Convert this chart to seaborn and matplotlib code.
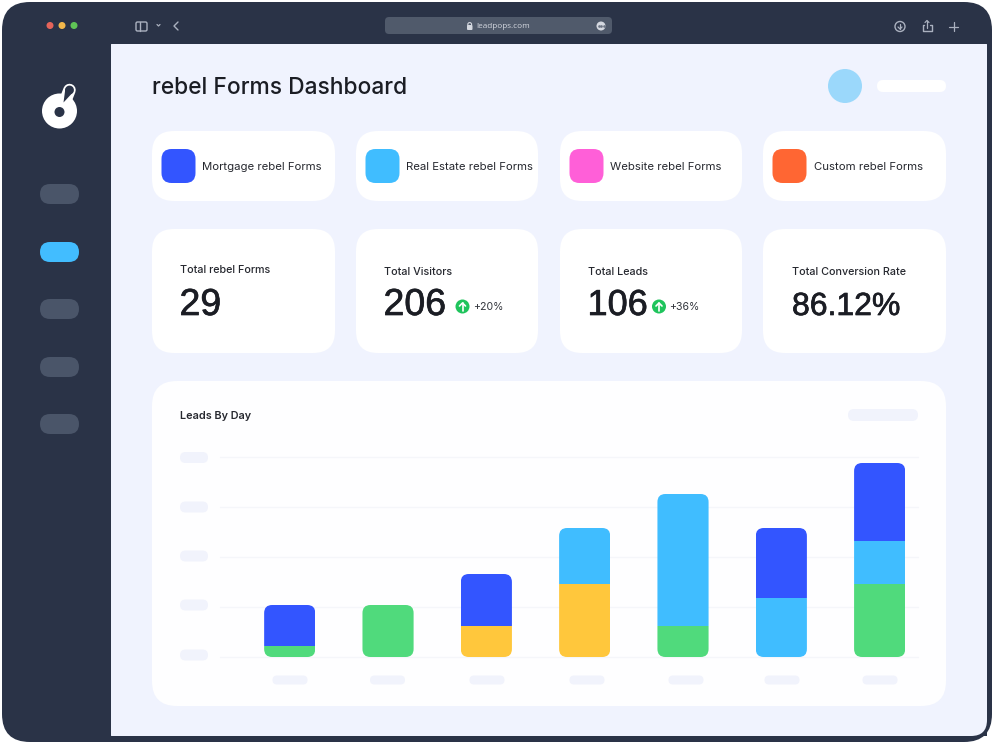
import numpy as np
import matplotlib
matplotlib.use("Agg")
import matplotlib.pyplot as plt
import matplotlib.patheffects as pe
import seaborn as sns
from matplotlib.patches import FancyBboxPatch, Circle

# chart data, in leads (one grid step = 10)
days = ["Day 1", "Day 2", "Day 3", "Day 4", "Day 5", "Day 6", "Day 7"]
green_leads = [2.2, 10.4, 0, 0, 6.2, 0, 14.6]
yellow_leads = [0, 0, 6.2, 14.6, 0, 0, 0]
cyan_leads = [0, 0, 0, 11.2, 26.4, 11.8, 8.6]
blue_leads = [8.2, 0, 10.4, 0, 0, 14.0, 15.6]
y_ticks = [0, 10, 20, 30, 40]

# dashboard text
form_types = ["Mortgage rebel Forms", "Real Estate rebel Forms", "Website rebel Forms", "Custom rebel Forms"]
form_colors = ["#3355ff", "#40bdff", "#ff5fd8", "#ff6633"]
stat_labels = ["Total rebel Forms", "Total Visitors", "Total Leads", "Total Conversion Rate"]
stat_values = ["29", "206", "106", "86.12%"]
stat_changes = [None, "+20%", "+36%", None]

DARK = "#2a3347"
PANEL = "#f0f3fe"
PILL = "#f1f3fc"
SIDE_PILL = "#4a5569"
INK = "#1b1d24"

sns.set_theme(style="white")
plt.rcParams["font.family"] = ["Open Sans", "DejaVu Sans"]

fig = plt.figure(figsize=(9.92, 7.42), dpi=100, facecolor="white")

# background axes in pixel coords for the app window
bg = fig.add_axes([0, 0, 1, 1])
bg.set_xlim(0, 992)
bg.set_ylim(742, 0)
bg.axis("off")


def box(x0, y0, x1, y1, r, color, z=1):
    p = FancyBboxPatch((x0 + r, y0 + r), x1 - x0 - 2 * r, y1 - y0 - 2 * r,
                       boxstyle="round,pad=%f,rounding_size=%f" % (r, r),
                       fc=color, ec="none", zorder=z)
    bg.add_patch(p)
    return p


def label(x, y, s, size, color=INK, weight="normal", family=None, ha="left", va="center"):
    return bg.text(x, y, s, fontsize=size, color=color, fontweight=weight, ha=ha, va=va,
                   family=family if family else plt.rcParams["font.family"], zorder=5)


# window + content panel
box(2, 2, 992, 742, 28, DARK)
box(111, 44, 987, 736, 0.5, PANEL, z=2)
# rounded bottom right corner of the panel
bg.fill_between([971, 987], 720, 736, color=DARK, lw=0, zorder=2.5)
corner = FancyBboxPatch((950, 700), 37, 36, boxstyle="round,pad=0,rounding_size=16", fc=PANEL, ec="none", zorder=3)
bg.add_patch(corner)

# title bar
for x, c in zip([50, 62, 74], ["#e5645a", "#f2b84b", "#5fc456"]):
    bg.add_patch(Circle((x, 25.5), 3.5, fc=c, ec="none", zorder=3))
bg.add_patch(FancyBboxPatch((136, 22), 11, 9, boxstyle="round,pad=0,rounding_size=1.5", fc="none", ec="#aab1bf", lw=1, zorder=3))
bg.plot([140, 140], [22, 31], color="#aab1bf", lw=1, zorder=3)
bg.plot([157, 158.5, 160], [24.5, 26, 24.5], color="#aab1bf", lw=0.9, zorder=3)
bg.plot([178, 174, 178], [22, 26, 30], color="#aab1bf", lw=1, zorder=3)
box(385, 17, 612, 34, 4, "#505a6b", z=3)
box(467, 25, 472.5, 30, 1, "#d4d8e0", z=4)
bg.add_patch(Circle((469.7, 24.5), 1.9, fc="none", ec="#d4d8e0", lw=0.8, zorder=4))
label(476.5, 26, "leadpops.com", 5.9, color="#d4d8e0")
bg.add_patch(Circle((601, 26), 4.5, fc="#d4d8e0", ec="none", zorder=4))
bg.plot([598.5, 601, 603.5], [26, 26, 26], ls="none", marker="o", ms=0.9, color="#6a7382", zorder=5)
# right side icons
bg.add_patch(Circle((900, 26.5), 5, fc="none", ec="#aab1bf", lw=1, zorder=3))
bg.plot([900, 900], [23.5, 29], color="#aab1bf", lw=0.9, zorder=3)
bg.plot([898, 900, 902], [27, 29, 27], color="#aab1bf", lw=0.9, zorder=3)
bg.plot([924, 922.5, 922.5, 931.5, 931.5, 930], [25, 25, 31, 31, 25, 25], color="#aab1bf", lw=1, zorder=3)
bg.plot([927, 927], [20.5, 27.5], color="#aab1bf", lw=0.9, zorder=3)
bg.plot([925, 927, 929], [22.5, 20.5, 22.5], color="#aab1bf", lw=0.9, zorder=3)
bg.plot([949, 958], [26.5, 26.5], color="#aab1bf", lw=0.9, zorder=3)
bg.plot([953.5, 953.5], [22, 31], color="#aab1bf", lw=0.9, zorder=3)

# logo
bg.plot([64, 69.5], [104, 90], color="white", lw=9, solid_capstyle="round", zorder=3)
bg.add_patch(Circle((59.5, 111), 17.5, fc="white", ec="none", zorder=3.1))
bg.add_patch(Circle((69.5, 90), 4.4, fc=DARK, ec="none", zorder=3.2))
bg.fill([65.4, 73.6, 63.5], [88.4, 91.6, 102.5], color=DARK, lw=0, zorder=3.2)
bg.add_patch(Circle((59.5, 112), 5, fc=DARK, ec="none", zorder=3.4))

# sidebar
for i, y in enumerate([184, 242, 299, 357, 414]):
    box(40, y, 79, y + 20, 10, "#42bdff" if i == 1 else SIDE_PILL, z=3)

# header
label(152, 87.5, "rebel Forms Dashboard", 16.4, family=["Inter"], weight="medium")
bg.add_patch(Circle((845, 86), 17, fc="#9bd8fb", ec="none", zorder=3))
box(877, 80, 946, 92, 6, "white", z=3)

# legend and stat cards
card_x = [(152, 335), (356, 538), (560, 742), (763, 946)]
for (x0, x1), name, col in zip(card_x, form_types, form_colors):
    box(x0, 131, x1, 201, 22, "white", z=3)
    box(x0 + 9.5, 149, x0 + 43.5, 183, 10, col, z=4)
    label(x0 + 50.5, 166.5, name, 8.2, color="#26282f", family=["Inter"])

stat_y = [270, 272, 272, 272]
value_size = [27, 27, 26, 23]
value_x = [-1, -1, -1, 0.5]
for (x0, x1), name, val, vs, vx, ly in zip(card_x, stat_labels, stat_values, value_size, value_x, stat_y):
    box(x0, 229, x1, 353, 22, "white", z=3)
    lx = x0 + 28.5
    label(lx, ly, name, 7.75, color="#26282f", family=["Inter"], weight="medium")
    t = label(lx + vx, 315, val, vs, color=INK, family=["Liberation Sans"], va="baseline")
    t.set_path_effects([pe.withStroke(linewidth=0.5, foreground=INK)])

for cx, tx, change in [(462.5, 473, stat_changes[1]), (659, 669, stat_changes[2])]:
    bg.add_patch(Circle((cx, 306.5), 7, fc="#1fc45c", ec="none", zorder=4))
    bg.plot([cx, cx], [310.5, 303], color="white", lw=1.2, zorder=5)
    bg.plot([cx - 3, cx, cx + 3], [306, 303, 306], color="white", lw=1.2, zorder=5)
    label(tx, 307, change, 7.6, color="#33363d", family=["Inter"])

# chart card
box(152, 381, 946, 706, 25, "#fefeff", z=3)
label(180, 416, "Leads By Day", 7.8, color="#26282f", family=["Inter"], weight="semibold")
box(848, 409, 918, 421, 6, PILL, z=4)
# placeholders for the blurred tick labels
for y in [457.5, 507, 556, 605, 655]:
    box(180, y - 5.5, 208, y + 5.5, 5.5, PILL, z=4)
for x in [290, 387.5, 487, 587, 686, 782, 880]:
    box(x - 17.5, 675.5, x + 17.5, 684.5, 4.5, PILL, z=4)

# stacked bars, axes spans gridlines from 220 to 918 px and 0-40 from 657 to 457 px
ax = fig.add_axes([220 / 992, (742 - 657) / 742, 698 / 992, 200 / 742], zorder=10)
ax.patch.set_alpha(0)

bottom = np.zeros(len(days))
for vals, col in [(green_leads, "#50da7c"), (yellow_leads, "#ffc73c"),
                  (cyan_leads, "#40bdff"), (blue_leads, "#3355ff")]:
    sns.barplot(x=days, y=vals, bottom=bottom, color=col, saturation=1, width=0.52,
                linewidth=0, zorder=3, ax=ax)
    bottom = bottom + np.array(vals)

ax.set_xlim(-0.709, 6.39)
ax.set_ylim(0, 40)
ax.set_yticks(y_ticks)
ax.grid(axis="y", color="#f5f6fa", lw=1)
ax.set_axisbelow(True)
ax.tick_params(left=False, bottom=False, labelleft=False, labelbottom=False)
ax.set_xlabel("")
ax.set_ylabel("")
for s in ax.spines.values():
    s.set_visible(False)
# bottom gridline sits on the axes edge
for g in ax.get_ygridlines():
    g.set_clip_on(False)

# round the outer corners of each stack
fig.canvas.draw()
to_px = ax.transData + bg.transData.inverted()
bars = ax.patches
for i, total in enumerate(bottom):
    edge = bars[i].get_x()
    (x0, y0), (x1, y1) = to_px.transform([(edge, total), (edge + bars[i].get_width(), 0)])
    clip = FancyBboxPatch((x0, y0), x1 - x0, y1 - y0, boxstyle="round,pad=0,rounding_size=8",
                          transform=bg.transData)
    for n in range(4):
        bars[n * len(days) + i].set_clip_path(clip)

plt.savefig("out.png", dpi=100)
